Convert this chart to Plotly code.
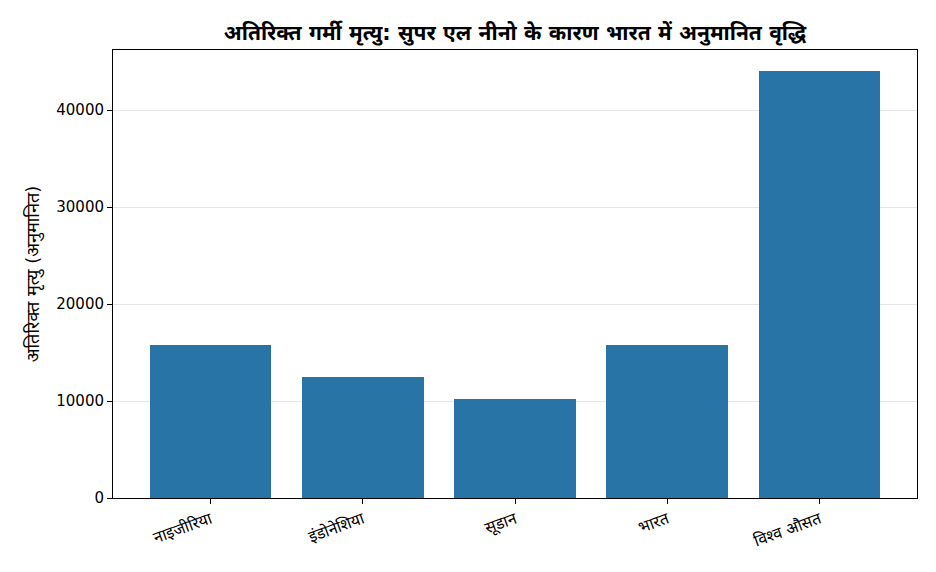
import plotly.graph_objects as go

categories = ["नाइजीरिया", "इंडोनेशिया", "सूडान", "भारत", "विश्व औसत"]
deaths = [15800, 12500, 10200, 15800, 44000]
y_ticks = [0, 10000, 20000, 30000, 40000]

title = "अतिरिक्त गर्मी मृत्यु: सुपर एल नीनो के कारण भारत में अनुमानित वृद्धि"
y_label = "अतिरिक्त मृत्यु (अनुमानित)"

font_family = "DejaVu Sans, Noto Sans, sans-serif"

fig = go.Figure(
    go.Bar(
        x=list(range(len(categories))),
        y=deaths,
        width=0.8,
        marker=dict(color="#2874a6", line=dict(width=0)),
    )
)

fig.update_layout(
    width=936,
    height=572,
    margin=dict(l=105, r=27, t=42, b=82),
    paper_bgcolor="white",
    plot_bgcolor="white",
    font=dict(family=font_family, color="black", size=15),
    title=dict(
        text="<b>" + title + "</b>",
        x=507 / 936,
        xanchor="center",
        y=1 - 25 / 572,
        yanchor="middle",
        font=dict(size=21, color="black"),
    ),
    showlegend=False,
    bargap=0,
)

fig.update_xaxes(
    range=[-0.64, 4.64],
    tickmode="array",
    tickvals=list(range(len(categories))),
    ticktext=categories,
    tickangle=-20,
    ticks="outside",
    ticklen=5,
    tickcolor="black",
    showline=True,
    linecolor="black",
    linewidth=1,
    mirror=True,
    showgrid=False,
    zeroline=False,
    tickfont=dict(size=16),
)

fig.update_yaxes(
    range=[0, 46200],
    tickmode="array",
    tickvals=y_ticks,
    ticktext=[str(v) for v in y_ticks],
    ticks="outside",
    ticklen=5,
    tickcolor="black",
    showline=True,
    linecolor="black",
    linewidth=1,
    mirror=True,
    showgrid=True,
    gridcolor="rgba(176,176,176,0.3)",
    gridwidth=1,
    zeroline=False,
    layer="above traces",
    tickfont=dict(size=15),
    title=dict(text=y_label, font=dict(size=18), standoff=11),
)

fig.write_html("out.html")
